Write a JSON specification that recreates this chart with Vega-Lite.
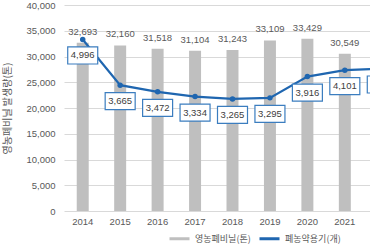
{
  "$schema": "https://vega.github.io/schema/vega-lite/v6.json",
  "autosize": {"type": "none"},
  "padding": {"left": 64, "top": 5, "right": 0, "bottom": 35},
  "width": 306,
  "height": 206,
  "background": "white",
  "config": {
    "view": {"stroke": null},
    "font": "Noto Sans CJK KR",
    "axis": {"labelFont": "Liberation Sans", "labelColor": "#595959", "labelFontSize": 9.5, "titleFont": "Noto Sans CJK KR", "titleColor": "#595959", "titleFontWeight": "normal"}
  },
  "data": {
    "values": [
      {"year": "2014", "waste": 32693, "cont": 4996},
      {"year": "2015", "waste": 32160, "cont": 3665},
      {"year": "2016", "waste": 31518, "cont": 3472},
      {"year": "2017", "waste": 31104, "cont": 3334},
      {"year": "2018", "waste": 31243, "cont": 3265},
      {"year": "2019", "waste": 33109, "cont": 3295},
      {"year": "2020", "waste": 33429, "cont": 3916},
      {"year": "2021", "waste": 30549, "cont": 4101},
      {"year": "2022", "waste": null, "cont": 4150}
    ]
  },
  "encoding": {
    "x": {
      "field": "year", "type": "ordinal",
      "scale": {"type": "band", "domain": ["2014","2015","2016","2017","2018","2019","2020","2021","2022"], "range": [0, 337], "paddingInner": 0.68, "paddingOuter": 0.34},
      "axis": {"values": ["2014","2015","2016","2017","2018","2019","2020","2021"], "title": null, "domain": false, "ticks": false, "tickSize": 0, "labelPadding": 5, "labelAngle": 0, "grid": false}
    }
  },
  "layer": [
    {
      "encoding": {
        "y": {"field": "waste", "type": "quantitative", "scale": {"domain": [0, 40000]},
          "axis": {"title": "영농폐비닐 발생량(톤)", "titleFontSize": 10, "titleX": -52, "values": [0,5000,10000,15000,20000,25000,30000,35000,40000], "format": ",d", "domain": false, "ticks": false, "tickSize": 0, "labelPadding": 9, "grid": true, "gridColor": "#d9d9d9", "gridWidth": 1}}
      },
      "layer": [
        {
          "mark": {"type": "bar", "clip": true},
          "encoding": {
            "color": {"datum": "영농폐비닐(톤)", "type": "nominal",
              "scale": {"domain": ["영농폐비닐(톤)", "폐농약용기(개)"], "range": ["#bfbfbf", "#1f66b0"]},
              "legend": {"orient": "none", "legendX": 104, "legendY": 222, "direction": "horizontal", "title": null, "symbolType": "stroke", "symbolSize": 400, "symbolStrokeWidth": 3, "labelFontSize": 9, "labelColor": "#595959", "labelFont": "Noto Sans CJK KR", "columnPadding": 2,
                "encode": {"symbols": {"update": {"stroke": {"scale": "color", "field": "value"}}}}}}
          }
        },
        {
          "mark": {"type": "text", "clip": true, "dy": -11, "fontSize": 9.5, "color": "#595959", "font": "Liberation Sans"},
          "encoding": {
            "text": {"field": "waste", "type": "quantitative", "format": ","}
          }
        }
      ]
    },
    {
      "encoding": {
        "y": {"field": "cont", "type": "quantitative", "scale": {"domain": [0, 6000]}, "axis": null}
      },
      "layer": [
        {
          "mark": {"type": "line", "clip": true, "strokeWidth": 2.2, "point": {"filled": true, "size": 30, "color": "#1f66b0"}},
          "encoding": {
            "color": {"datum": "폐농약용기(개)", "type": "nominal"}
          }
        },
        {
          "mark": {"type": "point", "clip": true, "shape": "M-1,-0.567H1V0.567H-1Z", "size": 900, "filled": true, "fill": "white", "stroke": "#3b7dbf", "strokeWidth": 1.2, "opacity": 1, "yOffset": 16},
          "encoding": {}
        },
        {
          "mark": {"type": "text", "clip": true, "dy": 16, "fontSize": 9.5, "color": "#404040", "font": "Liberation Sans"},
          "encoding": {
            "text": {"field": "cont", "type": "quantitative", "format": ","}
          }
        }
      ]
    }
  ],
  "resolve": {"scale": {"y": "independent"}}
}
